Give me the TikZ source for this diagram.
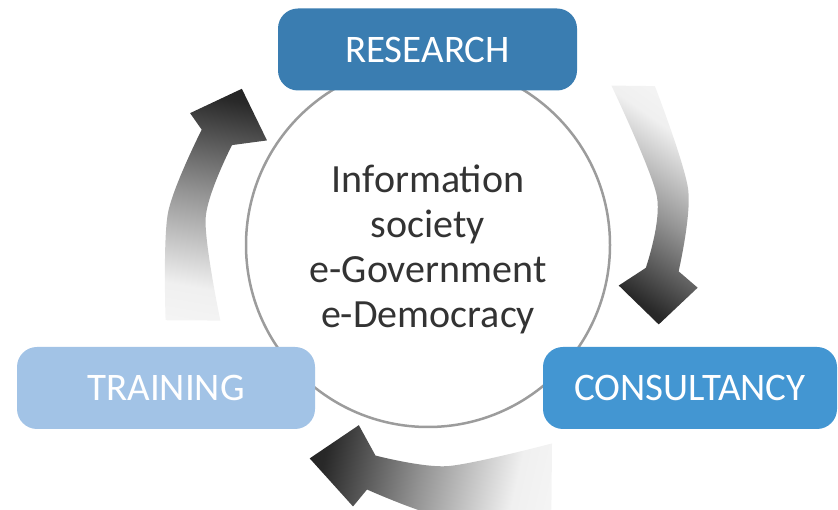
\documentclass[tikz,border=0pt]{standalone}
\usepackage{fontspec}
\setmainfont{Carlito}
\definecolor{researchblue}{HTML}{3A7DB1}
\definecolor{consultblue}{HTML}{4396D2}
\definecolor{trainblue}{HTML}{A2C3E6}
\definecolor{ringgray}{HTML}{9C9C9C}
\definecolor{hubtext}{HTML}{333333}
\pgfdeclareverticalshading{cyclefade}{100bp}{color(0bp)=(black!96); color(25bp)=(black!84); color(48bp)=(black!42); color(70bp)=(black!6); color(100bp)=(white)}
\tikzset{
  stage/.style={rounded corners=20pt, minimum width=#1, minimum height=82pt,
    inner sep=0pt, text=white, font=\fontsize{39}{45}\selectfont},
  ring/.style={circle, draw=ringgray, line width=2.5pt, fill=white,
    minimum size=364pt, inner sep=0pt},
  hubtext/.style={align=center, text=hubtext, font=\fontsize{40}{45}\selectfont},
  cyclearrow/.style={shading=cyclefade, shading angle=#1},
}
\begin{document}
\begin{tikzpicture}[x=1pt,y=1pt]
\useasboundingbox (0,0) rectangle (838,510);
\clip (0,0) rectangle (838,510);
\coordinate (C) at (428,265);
\begin{scope}[shift={(C)}]
  % research -> consultancy
  \shade[cyclearrow=-35]
    plot[smooth] coordinates {(35:277) (12:266) (-6:252)} -- (-9:273) -- (-19:244)
    -- (-12:195) -- plot[smooth] coordinates {(-6:219) (12:234) (41:243)} -- cycle;
  % consultancy -> training
  \shade[cyclearrow=-103]
    plot[smooth] coordinates {(-65:292) (-85:275) (-104:252)} -- (-106:272) -- (-119:244)
    -- (-111:193) -- plot[smooth] coordinates {(-104:217) (-85:222) (-58:234)} -- cycle;
  % training -> research
  \shade[cyclearrow=170]
    plot[smooth] coordinates {(196:273) (173:262) (153:254)} -- (151:272) -- (140:243)
    -- (147:192) -- plot[smooth] coordinates {(153:220) (173:224) (200:221)} -- cycle;
\end{scope}
\node[ring] (hub) at (C) {};
\node[hubtext] (topics) at (428,261) {Information\\society\\e-Government\\e-Democracy};
\node[stage=299pt, fill=researchblue] (research) at (427.5,460.5) {RESEARCH};
\node[stage=298pt, fill=trainblue] (training) at (166,122) {TRAINING};
\node[stage=294pt, fill=consultblue] (consultancy) at (690,122) {CONSULTANCY};
\end{tikzpicture}
\end{document}
